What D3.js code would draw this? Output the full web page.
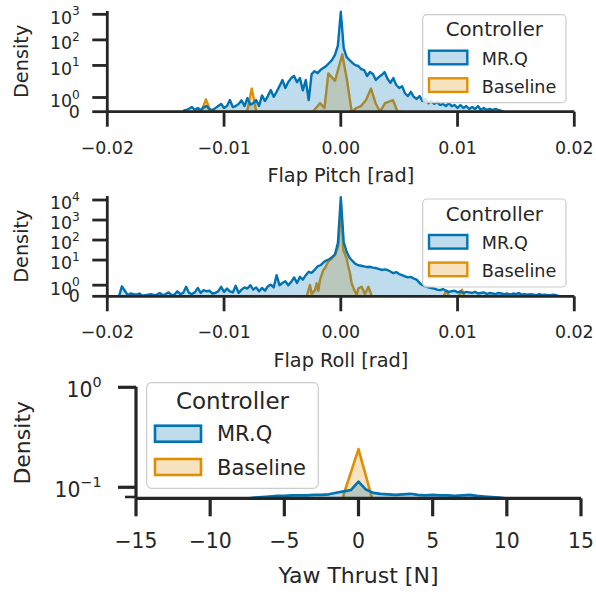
<!DOCTYPE html>
<html>
<head>
<meta charset="utf-8">
<script src="https://cdn.jsdelivr.net/npm/d3@7"></script>
<style>
  body { margin: 0; background: #fff; }
  svg { display: block; font-family: "DejaVu Sans", sans-serif; }
</style>
</head>
<body>
<div id="chart"></div>
<script>
// ---- data ----
const controllers = ['MR.Q', 'Baseline'];

// Flap pitch, MR.Q histogram (bin centres start + i*step)
const pitchMrqStart = -0.0135, pitchMrqStep = 0.00025;
const pitchMrq = [0.05,0.12,0.2,0.33,0.12,0.26,0.1,0.3,0.4,0.18,
  0.12,0.25,0.4,0.55,0.26,0.4,0.82,0.33,0.4,0.55,
  0.8,0.4,0.96,0.5,0.6,0.82,0.4,1.15,0.75,1.1,
  1.53,1.05,1.4,1.8,2.7,1.67,2.24,3.2,3.85,2.2,
  3.2,1.5,2.7,0.82,4.6,6,5,6.6,7.9,9.5,
  12.5,16.4,25.7,60,1260,48,21,16,12.5,10.3,
  9.5,7.2,6.6,3.85,5.5,4.6,2.7,3.5,4.2,5.5,
  3,2.1,3.2,1.88,1.67,1.8,1.3,1.1,1.4,1.05,
  0.9,1.1,0.75,0.9,0.6,0.75,0.55,0.68,0.47,0.55,
  0.4,0.6,0.4,0.47,0.26,0.47,0.26,0.4,0.19,0.33,
  0.19,0.4,0.12,0.26,0.12,0.19,0.12,0.2,0.12,0.06,
  0];
const pitchBaseX = [-0.0124,-0.01195,-0.01155,-0.01115,-0.0108,-0.00803,-0.00763,-0.00723,-0.0024,-0.00178,
  -0.0014,-0.00107,-0.0005,0.00013,0.00053,0.00093,0.00133,0.00173,0.00216,0.00259,
  0.00298,0.00336,0.00379,0.00447,0.00486,0.0053];
const pitchBaseY = [0,0,0.87,0,0,0,1.63,0,0,0.6,
  0.26,4.9,2.5,27,2.7,0,0.26,0.4,0.82,1.63,
  0.6,0,0.6,0.82,0,0];

// Flap roll
const rollMrqStart = -0.019, rollMrqStep = 0.00025;
const rollMrq = [0,0.9,0.5,0.1,0.25,0.2,0.15,0.25,0.05,0.1,0.15,
  0.2,0.1,0.15,0.3,0.1,0.2,0.35,0.1,0.15,0.45,
  0.2,0.3,0.85,0.3,0.2,0.35,0.75,0.3,0.55,0.45,
  0.5,0.25,0.3,0.45,0.85,0.4,0.7,0.45,0.35,0.95,
  0.3,0.6,0.8,0.7,1.0,0.6,0.8,0.45,0.75,0.5,
  0.9,1.05,0.8,1.9,1.0,1.2,1.35,1.0,1.3,1.7,
  1.2,1.75,1.5,1.9,2.6,2.3,3.2,4.8,5.5,7.5,
  9.5,11,14,19,70,13650,80,26,13,9,
  6.5,5.5,5.2,4.8,4.5,4.6,4.2,4.0,3.6,3.2,
  3.4,3.2,2.7,2.2,2.5,2.0,1.9,1.8,1.7,1.75,
  1.6,1.5,1.2,1.0,0.9,0.8,0.75,0.7,0.6,0.55,
  0.65,0.5,0.4,0.45,0.5,0.35,0.45,0.3,0.4,0.35,
  0.3,0.4,0.25,0.3,0.35,0.2,0.3,0.25,0.2,0.3,
  0.25,0.2,0.25,0.15,0.25,0.2,0.3,0.15,0.2,0.15,
  0.2,0.15,0.1,0.2,0.12,0.15,0.1,0.12,0.15,0.08,
  0];
const rollBaseX = [-0.0032,-0.00292,-0.00264,-0.00249,-0.00221,-0.00206,-0.00193,-0.00178,-0.0015,-0.00135,
  -0.00107,-0.00078,-0.0005,-0.00021,0.00002,0.00021,0.0005,0.00064,0.00079,0.00093,
  0.00107,0.00122,0.00136,0.0015,0.00179,0.00207,0.00236,0.00265,0.00276,0.0088,
  0.00905,0.0093,0.0101,0.01038,0.0106];
const rollBaseY = [0,0,1.02,0.2,0.57,1.17,0.5,1.47,3.2,4,
  8.6,12,18,50,5000,32,12,4.8,2.2,1.17,
  0.8,0.41,0.1,0.72,0.86,0.2,0.86,0.05,0,0,
  0.5,0,0,0.6,0];

// Yaw thrust
const yawMrqStart = -8, yawMrqStep = 0.5;
const yawMrq = [0.074,0.077,0.079,0.080,0.081,0.082,0.082,0.083,0.083,0.083,
  0.084,0.084,0.085,0.088,0.091,0.094,0.114,0.095,0.088,0.086,
  0.085,0.084,0.085,0.086,0.084,0.083,0.084,0.083,0.083,0.082,
  0.083,0.084,0.082,0.081,0.080,0.079,0.077,0.075];
const yawBaseX = [-2, -1, 0, 1, 2];
const yawBaseY = [0.01, 0.085, 0.241, 0.07, 0.01];

// ticks
const flapXTicks = [-0.02, -0.01, 0, 0.01, 0.02];
const pitchYTicks = [0, 1, 10, 100, 1000];
const rollYTicks = [0, 1, 10, 100, 1000, 10000];
const yawXTicks = [-15, -10, -5, 0, 5, 10, 15];
const yawYTicks = [0.1, 1];

// ---- drawing ----
const ink = '#262626';
const colors = { 'MR.Q': '#0173b2', 'Baseline': '#de8f05' };

const svg = d3.select('#chart').append('svg')
  .attr('width', 596)
  .attr('height', 592);

// matplotlib style symlog (linthresh 2, linscale 1)
function symlog(top, height) {
  const L = 2, s = 1 / (1 - 1 / 10);
  const f = v => {
    const a = Math.abs(v);
    return a <= L ? v * s : Math.sign(v) * L * (s + Math.log10(a / L));
  };
  const lin = d3.scaleLinear().domain([0, f(top)]).range([height, 0]);
  return v => lin(f(v));
}

const minus = s => String(s).replace('-', '\u2212');

function binned(start, step, vals) {
  return vals.map((v, i) => [start + i * step, v]);
}

function drawPanel(cfg) {
  const g = svg.append('g').attr('transform', `translate(${cfg.left},${cfg.top})`);
  const x = d3.scaleLinear().domain(cfg.xDomain).range([0, cfg.width]);
  const y = cfg.y;
  const h = cfg.height;

  g.append('clipPath').attr('id', cfg.id + '-clip')
    .append('rect')
    .attr('x', -5).attr('y', -40)
    .attr('width', cfg.width + 10).attr('height', h + 40);
  const plot = g.append('g').attr('clip-path', `url(#${cfg.id}-clip)`);

  const area = d3.area().x(d => x(d[0])).y0(h).y1(d => y(d[1]));
  const line = d3.line().x(d => x(d[0])).y(d => y(d[1]));

  cfg.series.forEach(s => {
    plot.append('path')
      .attr('d', area(s.points))
      .attr('fill', colors[s.name])
      .attr('fill-opacity', 0.25);
    plot.append('path')
      .attr('d', line(s.points))
      .attr('fill', 'none')
      .attr('stroke', colors[s.name])
      .attr('stroke-width', cfg.lw)
      .attr('stroke-linejoin', 'round');
  });

  // spines
  g.append('line')
    .attr('x1', 0).attr('x2', cfg.width).attr('y1', h).attr('y2', h)
    .attr('stroke', ink).attr('stroke-width', cfg.sw);
  g.append('line')
    .attr('x1', 0).attr('x2', 0).attr('y1', cfg.spineTop).attr('y2', h)
    .attr('stroke', ink).attr('stroke-width', cfg.sw);

  // x ticks
  const xt = g.selectAll('.xtick').data(cfg.xTicks).join('g')
    .attr('class', 'xtick')
    .attr('transform', d => `translate(${x(d)},${h})`);
  xt.append('line').attr('y2', cfg.tickLen).attr('stroke', ink).attr('stroke-width', cfg.sw);
  xt.append('text')
    .attr('y', cfg.tickLen + cfg.xPad)
    .attr('dy', '0.71em')
    .attr('text-anchor', 'middle')
    .attr('font-size', cfg.tickFs)
    .attr('fill', ink)
    .text(d => minus(cfg.xFormat(d)));

  // y ticks
  const yt = g.selectAll('.ytick').data(cfg.yTicks).join('g')
    .attr('class', 'ytick')
    .attr('transform', d => `translate(0,${y(d)})`);
  yt.append('line').attr('x1', -cfg.tickLen).attr('stroke', ink).attr('stroke-width', cfg.sw);
  yt.each(function (d) {
    const t = d3.select(this).append('text')
      .attr('x', -cfg.tickLen - cfg.yPad)
      .attr('text-anchor', 'end')
      .attr('font-size', cfg.tickFs)
      .attr('fill', ink);
    if (d === 0) {
      t.attr('dy', '0.34em').text('0');
    } else {
      const e = Math.round(Math.log10(d));
      t.attr('dy', cfg.supDy);
      t.append('tspan').text('10');
      t.append('tspan')
        .attr('dy', -cfg.tickFs * 0.48)
        .attr('font-size', cfg.tickFs * 0.7)
        .text(minus(e));
    }
  });
  (cfg.yMinor || []).forEach(m => {
    g.append('line')
      .attr('x1', -cfg.minorLen).attr('x2', 0)
      .attr('y1', y(m)).attr('y2', y(m))
      .attr('stroke', ink).attr('stroke-width', cfg.sw * 0.8);
  });

  // axis labels
  g.append('text')
    .attr('x', cfg.width / 2)
    .attr('y', cfg.xLabelY)
    .attr('text-anchor', 'middle')
    .attr('font-size', cfg.labelFs)
    .attr('fill', ink)
    .text(cfg.xLabel);
  g.append('text')
    .attr('transform', `translate(${cfg.yLabelX},${h / 2}) rotate(-90)`)
    .attr('text-anchor', 'middle')
    .attr('font-size', cfg.labelFs)
    .attr('fill', ink)
    .text('Density');

  // legend
  const L = cfg.legend;
  const lg = svg.append('g').attr('transform', `translate(${L.x},${L.y})`);
  lg.append('rect')
    .attr('width', L.w).attr('height', L.h)
    .attr('rx', L.r)
    .attr('fill', '#fff').attr('fill-opacity', 0.8)
    .attr('stroke', '#cccccc').attr('stroke-width', 1.2);
  lg.append('text')
    .attr('x', L.w / 2).attr('y', L.titleY)
    .attr('text-anchor', 'middle')
    .attr('font-size', L.titleFs)
    .attr('fill', ink)
    .text('Controller');
  controllers.forEach((c, i) => {
    lg.append('rect')
      .attr('x', L.patchX).attr('y', L.patchY + i * L.rowH)
      .attr('width', L.patchW).attr('height', L.patchH)
      .attr('fill', colors[c]).attr('fill-opacity', 0.25)
      .attr('stroke', colors[c]).attr('stroke-width', cfg.lw);
    lg.append('text')
      .attr('x', L.textX).attr('y', L.patchY + i * L.rowH + L.textDy)
      .attr('font-size', L.fs)
      .attr('fill', ink)
      .text(c);
  });
}

const smallLegend = {
  w: 143.3, h: 88, r: 4, titleY: 21.8, titleFs: 19.8, fs: 17.6,
  patchX: 6.3, patchW: 38.3, patchY: 36, patchH: 13.6, rowH: 27.6, textX: 59, textDy: 14.3
};
const topStyle = {
  width: 467, tickLen: 15, xPad: 14.5, yPad: 12.5, tickFs: 17.4, labelFs: 19.3,
  sw: 2.8, lw: 2.4, supDy: '0.54em', yLabelX: -79.3
};

// panel 1: flap pitch
drawPanel(Object.assign({}, topStyle, {
  id: 'pitch', left: 107.3, top: 11, height: 100.7, spineTop: 0,
  xDomain: [-0.02, 0.02], y: symlog(1350, 100.7),
  xTicks: flapXTicks, yTicks: pitchYTicks, xFormat: d3.format('.2f'),
  xLabel: 'Flap Pitch [rad]', xLabelY: 171,
  series: [
    { name: 'Baseline', points: pitchBaseX.map((d, i) => [d, pitchBaseY[i]]) },
    { name: 'MR.Q', points: binned(pitchMrqStart, pitchMrqStep, pitchMrq) }
  ],
  legend: Object.assign({ x: 422.7, y: 14.7 }, smallLegend)
}));

// panel 2: flap roll
drawPanel(Object.assign({}, topStyle, {
  id: 'roll', left: 107.3, top: 196, height: 100.3, spineTop: 0,
  xDomain: [-0.02, 0.02], y: symlog(15850, 100.3),
  xTicks: flapXTicks, yTicks: rollYTicks, xFormat: d3.format('.2f'),
  xLabel: 'Flap Roll [rad]', xLabelY: 170.7,
  series: [
    { name: 'Baseline', points: rollBaseX.map((d, i) => [d, rollBaseY[i]]) },
    { name: 'MR.Q', points: binned(rollMrqStart, rollMrqStep, rollMrq) }
  ],
  legend: Object.assign({ x: 422.7, y: 199 }, smallLegend)
}));

// panel 3: yaw thrust (log y)
drawPanel({
  id: 'yaw', left: 136, top: 387.3, width: 445, height: 111, spineTop: -0.6,
  tickLen: 18, minorLen: 11, xPad: 17, yPad: 16.5, tickFs: 20.4, labelFs: 22,
  sw: 3.2, lw: 2.6, supDy: '0.46em', yLabelX: -106.5,
  xDomain: [-15, 15], y: d3.scaleLog().domain([0.0776, 1]).range([111, 0]),
  xTicks: yawXTicks, yTicks: yawYTicks, yMinor: [0.08], xFormat: d3.format('d'),
  xLabel: 'Yaw Thrust [N]', xLabelY: 195.7,
  series: [
    { name: 'Baseline', points: yawBaseX.map((d, i) => [d, yawBaseY[i]]) },
    { name: 'MR.Q', points: binned(yawMrqStart, yawMrqStep, yawMrq) }
  ],
  legend: {
    x: 146.7, y: 382.7, w: 171.6, h: 105.6, r: 5, titleY: 26.3, titleFs: 23, fs: 21,
    patchX: 8.3, patchW: 46, patchY: 43, patchH: 16, rowH: 33.3, textX: 70.3, textDy: 15.8
  }
});
</script>
</body>
</html>
